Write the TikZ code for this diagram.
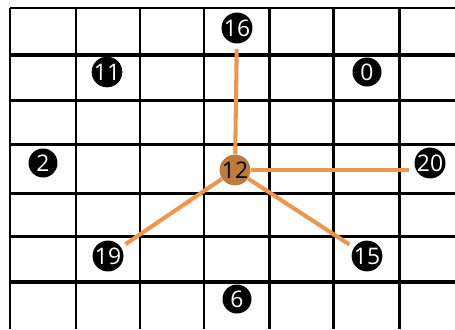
\documentclass[tikz,border=0pt]{standalone}
\usepackage{fontspec}
\setmainfont{Open Sans}
\usetikzlibrary{positioning}
\definecolor{linkorange}{RGB}{240,150,75}
\definecolor{hubbrown}{RGB}{190,122,58}

\begin{document}
\begin{tikzpicture}[x=0.02cm,y=-0.02cm,
    every node/.style={circle,inner sep=0pt,minimum size=0.58cm,font=\fontsize{13}{13}\selectfont},
    spot/.style={fill=black,text=white},
    hub/.style={fill=hubbrown,text=black,minimum size=0.44cm},
    link/.style={draw=linkorange,line width=2.3pt,shorten >=3pt}]
      \useasboundingbox (0,0) rectangle (455,329);
      % grid
      \foreach \gx in {10,76,140,204,269,333,399}
        \draw[line width=1.7pt] (\gx,8) -- (\gx,329);
      \foreach \gy in {8,100,144,193,236}
        \draw[line width=1.7pt] (10,\gy) -- (455,\gy);
      \foreach \gy in {55,282}
        \draw[line width=2pt] (10,\gy) -- (455,\gy);
      % nodes
      \node[spot] (n16) at (237,28) {16};
      \node[spot] (n11) at (107,72) {11};
      \node[spot] (n0) at (367,72) {0};
      \node[spot] (n2) at (43,163) {2};
      \node[spot] (n20) at (430,163) {20};
      \node[spot] (n19) at (108,256) {19};
      \node[spot] (n15) at (367,256) {15};
      \node[spot] (n6) at (237,299) {6};
      \node[hub] (n12) at (235,170) {12};
      % links
      \draw[link] (n12) -- (n16);
      \draw[link] (n12.east) -- (n20.west |- n12.east);
      \draw[link] (n12) -- (n19);
      \draw[link] (n12) -- (n15);
    \end{tikzpicture}
\end{document}
